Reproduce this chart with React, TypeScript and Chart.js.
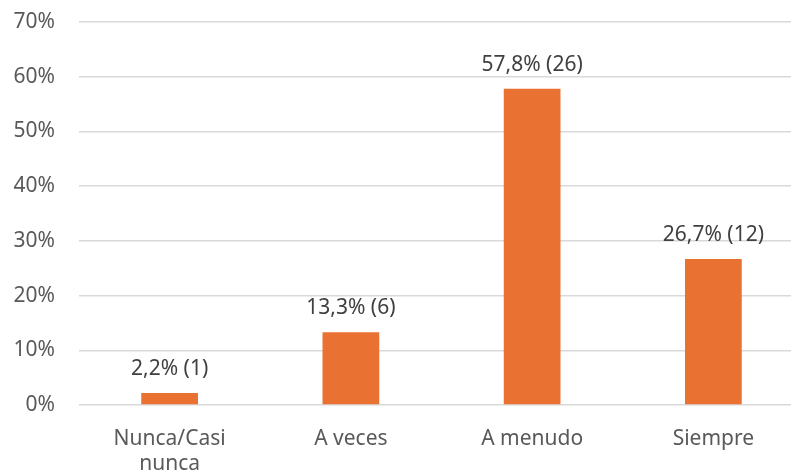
import React, { useEffect, useRef } from "react";
import { Chart, registerables } from "chart.js";

Chart.register(...registerables);

const categories: (string | string[])[] = [["Nunca/Casi", "nunca"], "A veces", "A menudo", "Siempre"];
const percentages = [2.2, 13.3, 57.8, 26.7];
const counts = [1, 6, 26, 12];
const yTicks = [0, 10, 20, 30, 40, 50, 60, 70];

const FONT = "'Noto Sans', sans-serif";
const CANVAS_W = 806;

const labelPlugin = {
  id: "barLabels",
  afterDatasetsDraw(chart: any) {
    const ctx = chart.ctx;
    const meta = chart.getDatasetMeta(0);
    ctx.save();
    ctx.font = `21px ${FONT}`;
    ctx.fillStyle = "#404040";
    ctx.textAlign = "center";
    ctx.textBaseline = "middle";
    meta.data.forEach((bar: any, i: number) => {
      const txt = `${percentages[i].toFixed(1).replace(".", ",")}% (${counts[i]})`;
      ctx.fillText(txt, bar.x, bar.y - 24);
    });
    ctx.restore();
  },
};

export default function App() {
  const ref = useRef<HTMLCanvasElement>(null);
  useEffect(() => {
    document.body.style.margin = "0";
    const chart = new Chart(ref.current!, {
      type: "bar",
      data: {
        labels: categories,
        datasets: [
          {
            data: percentages,
            backgroundColor: "#E97132",
            barPercentage: 0.313,
            categoryPercentage: 1,
          },
        ],
      },
      options: {
        animation: false,
        responsive: false,
        maintainAspectRatio: false,
        layout: { padding: { top: 22, right: 2, left: 0, bottom: 0 } },
        plugins: { legend: { display: false }, tooltip: { enabled: false } },
        scales: {
          x: {
            grid: { display: false, drawTicks: false },
            border: { display: false },
            ticks: {
              color: "#595959",
              font: { family: FONT, size: 21, lineHeight: 1.19 },
              padding: 22,
              maxRotation: 0,
              autoSkip: false,
            },
            afterFit: (s: any) => {
              s.height = 70;
            },
          },
          y: {
            min: 0,
            max: 70,
            afterBuildTicks: (s: any) => {
              s.ticks = yTicks.map((v) => ({ value: v }));
            },
            grid: { color: "#d9d9d9", lineWidth: 1.5, drawTicks: false },
            border: { display: false },
            ticks: {
              color: "#595959",
              font: { family: FONT, size: 21, lineHeight: 0.1 },
              padding: 24,
              callback: (v: any) => `${v}%`,
            },
            afterFit: (s: any) => {
              s.width = 79;
              s.paddingTop = 0;
              s.paddingBottom = 0;
            },
          },
        },
      },
      plugins: [labelPlugin],
    });
    return () => chart.destroy();
  }, []);
  return (
    <div style={{ width: 791, height: 475, overflow: "hidden" }}>
      <canvas ref={ref} width={CANVAS_W} height={475} style={{ width: CANVAS_W, height: 475, display: "block" }} />
    </div>
  );
}
